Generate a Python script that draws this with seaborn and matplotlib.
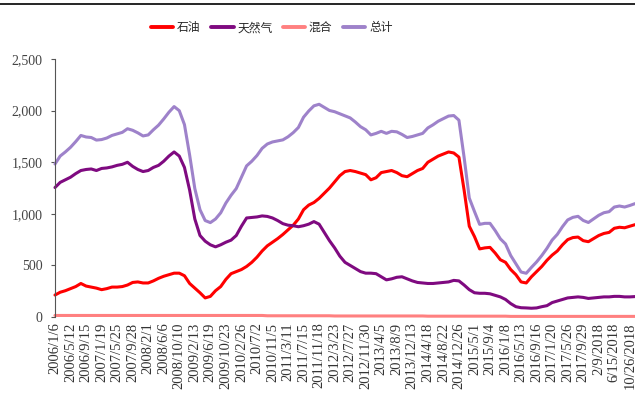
import matplotlib
matplotlib.use("Agg")
import matplotlib.pyplot as plt
from matplotlib.lines import Line2D
from matplotlib.ticker import FuncFormatter
import pandas as pd
import seaborn as sns

# week offset of each reading (every 6th week from 2006/1/6)
weeks = list(range(0, 673, 6))

oil = [213, 240, 255, 275, 295, 325, 300, 290, 280, 265,
       275, 290, 290, 295, 310, 335, 340, 330, 330, 350,
       375, 395, 410, 425, 425, 400, 325, 280, 235, 185,
       200, 255, 295, 365, 420, 440, 460, 490, 530, 580,
       640, 690, 725, 760, 800, 845, 890, 950, 1040, 1085,
       1110, 1150, 1200, 1250, 1310, 1370, 1410, 1420, 1410, 1395,
       1380, 1330, 1350, 1400, 1410, 1420, 1400, 1370, 1360, 1390,
       1420, 1440, 1500, 1530, 1560, 1580, 1600, 1590, 1550, 1230,
       880, 780, 660, 670, 675, 620, 555, 530, 460, 410,
       340, 330, 390, 440, 490, 550, 600, 640, 700, 750,
       770, 775, 740, 730, 760, 790, 810, 820, 860, 870,
       865, 880, 895]

gas = [1255, 1305, 1330, 1355, 1390, 1420, 1430, 1435, 1420, 1440,
       1445, 1455, 1470, 1480, 1500, 1460, 1430, 1410, 1420, 1450,
       1470, 1510, 1560, 1600, 1560, 1450, 1230, 950, 790, 735,
       700, 680, 700, 725, 745, 790, 880, 960, 965, 970,
       980, 975, 960, 935, 905, 890, 885, 875, 885, 900,
       925, 900, 820, 740, 670, 590, 530, 500, 470, 440,
       425, 425, 420, 390, 360, 370, 385, 390, 370, 350,
       335, 330, 325, 325, 330, 335, 340, 355, 350, 310,
       265, 235, 230, 230, 225, 210, 195, 170, 130, 100,
       90, 88, 85, 88, 100, 110, 140, 155, 170, 185,
       190, 195, 190, 180, 185, 190, 195, 195, 200, 200,
       195, 195, 198]

misc = [15, 15, 15, 15, 15, 15, 15, 15, 15, 15,
        15, 15, 15, 15, 15, 15, 15, 15, 15, 15,
        15, 15, 15, 15, 15, 15, 15, 15, 15, 15,
        15, 15, 15, 15, 15, 15, 15, 15, 15, 15,
        15, 12, 12, 12, 12, 12, 12, 12, 12, 12,
        12, 12, 12, 12, 10, 10, 10, 10, 10, 10,
        10, 10, 10, 10, 10, 10, 10, 10, 10, 10,
        10, 10, 8, 8, 8, 8, 8, 8, 8, 8,
        8, 8, 8, 8, 8, 8, 8, 8, 6, 6,
        6, 6, 6, 6, 6, 6, 6, 6, 6, 6,
        6, 6, 6, 6, 6, 6, 6, 6, 6, 6,
        6, 6, 6]

total = [o + g + m for o, g, m in zip(oil, gas, misc)]

tick_labels = ["2006/1/6", "2006/5/12", "2006/9/15", "2007/1/19", "2007/5/25",
               "2007/9/28", "2008/2/1", "2008/6/6", "2008/10/10", "2009/2/13",
               "2009/6/19", "2009/10/23", "2010/2/26", "2010/7/2", "2010/11/5",
               "2011/3/11", "2011/7/15", "2011/11/18", "2012/3/23", "2012/7/27",
               "2012/11/30", "2013/4/5", "2013/8/9", "2013/12/13", "2014/4/18",
               "2014/8/22", "2014/12/26", "2015/5/1", "2015/9/4", "2016/1/8",
               "2016/5/13", "2016/9/16", "2017/1/20", "2017/5/26", "2017/9/29",
               "2/9/2018", "6/15/2018", "10/26/2018"]

names = ["石油", "天然气", "混合", "总计"]
colors = ["#FF0000", "#7F0A80", "#FF8080", "#9E82CA"]

df = pd.DataFrame({
    "week": weeks * 4,
    "value": oil + gas + misc + total,
    "series": [n for n in names for _ in weeks],
})

sns.set_style("white")
plt.rcParams["font.family"] = ["Liberation Serif", "Noto Sans CJK SC"]

fig = plt.figure(figsize=(6.35, 3.98), dpi=100)
ax = fig.add_axes([0.0866, 0.2035, 0.9134, 0.648])

sns.lineplot(data=df, x="week", y="value", hue="series", hue_order=names,
             palette=colors, linewidth=2.2, sort=False, legend=False, ax=ax)
for line in ax.lines:
    line.set_clip_on(False)

ax.set_xlim(0, 672)
ax.set_ylim(0, 2500)
ax.set_xticks([18 * i for i in range(len(tick_labels))])
ax.set_xticklabels(tick_labels, rotation=90, fontsize=10.5, color="#333333")
ax.set_yticks(range(0, 2501, 500))
ax.yaxis.set_major_formatter(FuncFormatter(lambda v, p: f"{int(v):,}"))
ax.tick_params(axis="y", labelsize=10, labelcolor="#444444", direction="out",
               length=3, width=0.8, color="#555555", left=True, pad=6)
ax.tick_params(axis="x", length=0, pad=4)
ax.set_xlabel("")
ax.set_ylabel("")

for s in ["top", "right", "bottom"]:
    ax.spines[s].set_visible(False)
ax.spines["left"].set_color("#555555")
ax.spines["left"].set_linewidth(0.8)

handles = [Line2D([], [], color=c, lw=2.8) for c in colors]
fig.legend(handles, names, loc="center", bbox_to_anchor=(0.428, 0.93), ncol=4,
           frameon=False, handlelength=1.9, handletextpad=0.3, columnspacing=0.9,
           prop={"family": "Noto Sans CJK SC", "size": 8.5})

fig.add_artist(Line2D([0, 1], [0.99, 0.99], color="black", lw=1.2,
                      transform=fig.transFigure))

fig.savefig("out.png", dpi=100)
